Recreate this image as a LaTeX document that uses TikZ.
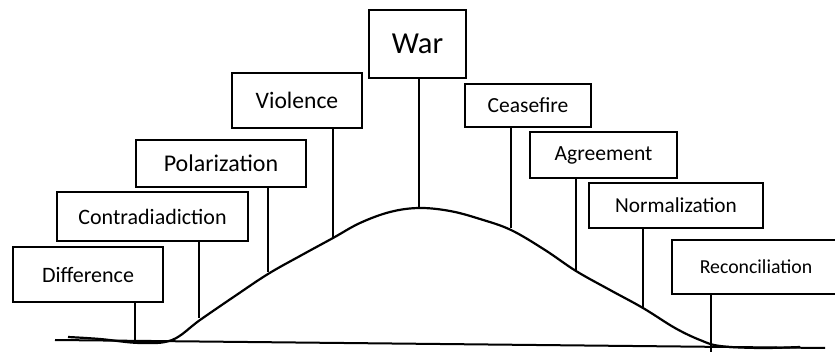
\documentclass[tikz,border=0pt]{standalone}
\usepackage{fontspec}
\setmainfont{Carlito}
\begin{document}
\begin{tikzpicture}[x=1pt, y=-1pt,
    sign/.style={draw, line width=2pt, inner sep=0pt},
    post/.style={line width=1.8pt},
    bell/.style={line width=2.2pt, line join=round}]

\useasboundingbox (0,0) rectangle (835,352);

% Sign boards: name/x/y/width/height/font size/label
\foreach \n/\cx/\cy/\w/\h/\fs/\lbl in {
    dif/88/274.5/150/55/22/Difference,
    con/152.5/216.5/191/49/22/Contradiadiction,
    pol/221/163.5/170/47/24/Polarization,
    vio/297/100.5/130/55/23.6/Violence,
    war/417.5/44/97/68/30.5/War,
    cea/528/105.5/126/43/21.5/Ceasefire,
    agr/603.5/155/147/46/21.6/Agreement,
    nor/676/205.5/174/45/21.3/Normalization,
    rec/756/267/168/54/19.8/Reconciliation} {
    \node[sign, minimum width=\w pt, minimum height=\h pt,
          font=\fontsize{\fs}{\fs}\selectfont] (\n) at (\cx,\cy) {\lbl};
}

% Foot of each post (on the curve or the ground line)
\coordinate (fdif) at (135,340);
\coordinate (fcon) at (199,318);
\coordinate (fpol) at (268,272);
\coordinate (fvio) at (333,237);
\coordinate (fwar) at (419,208);
\coordinate (fcea) at (511,228);
\coordinate (fagr) at (576,272);
\coordinate (fnor) at (643,308);
\coordinate (frec) at (711,352);

% Ground line
\coordinate (gl) at (55,340);
\coordinate (gr) at (825,348);
\draw[line width=2pt] (gl) -- (gr);

% Bell curve
\draw[bell] plot[smooth, tension=0.6] coordinates {
    (68,337) (100,339) (140,343) (172,340) (200,320) (235,296) (268,274)
    (300,256) (333,238) (360,223) (390,212) (419,208) (450,211) (480,219)
    (511,230) (545,250) (576,271) (610,290) (643,308) (675,328) (700,340)
    (720,346) (760,348) (800,347)};

% Posts from boards down to the curve
\foreach \n in {dif,con,pol,vio,war,cea,agr,nor,rec} {
    \draw[post] (f\n |- \n.south) -- (f\n);
}
\end{tikzpicture}
\end{document}
